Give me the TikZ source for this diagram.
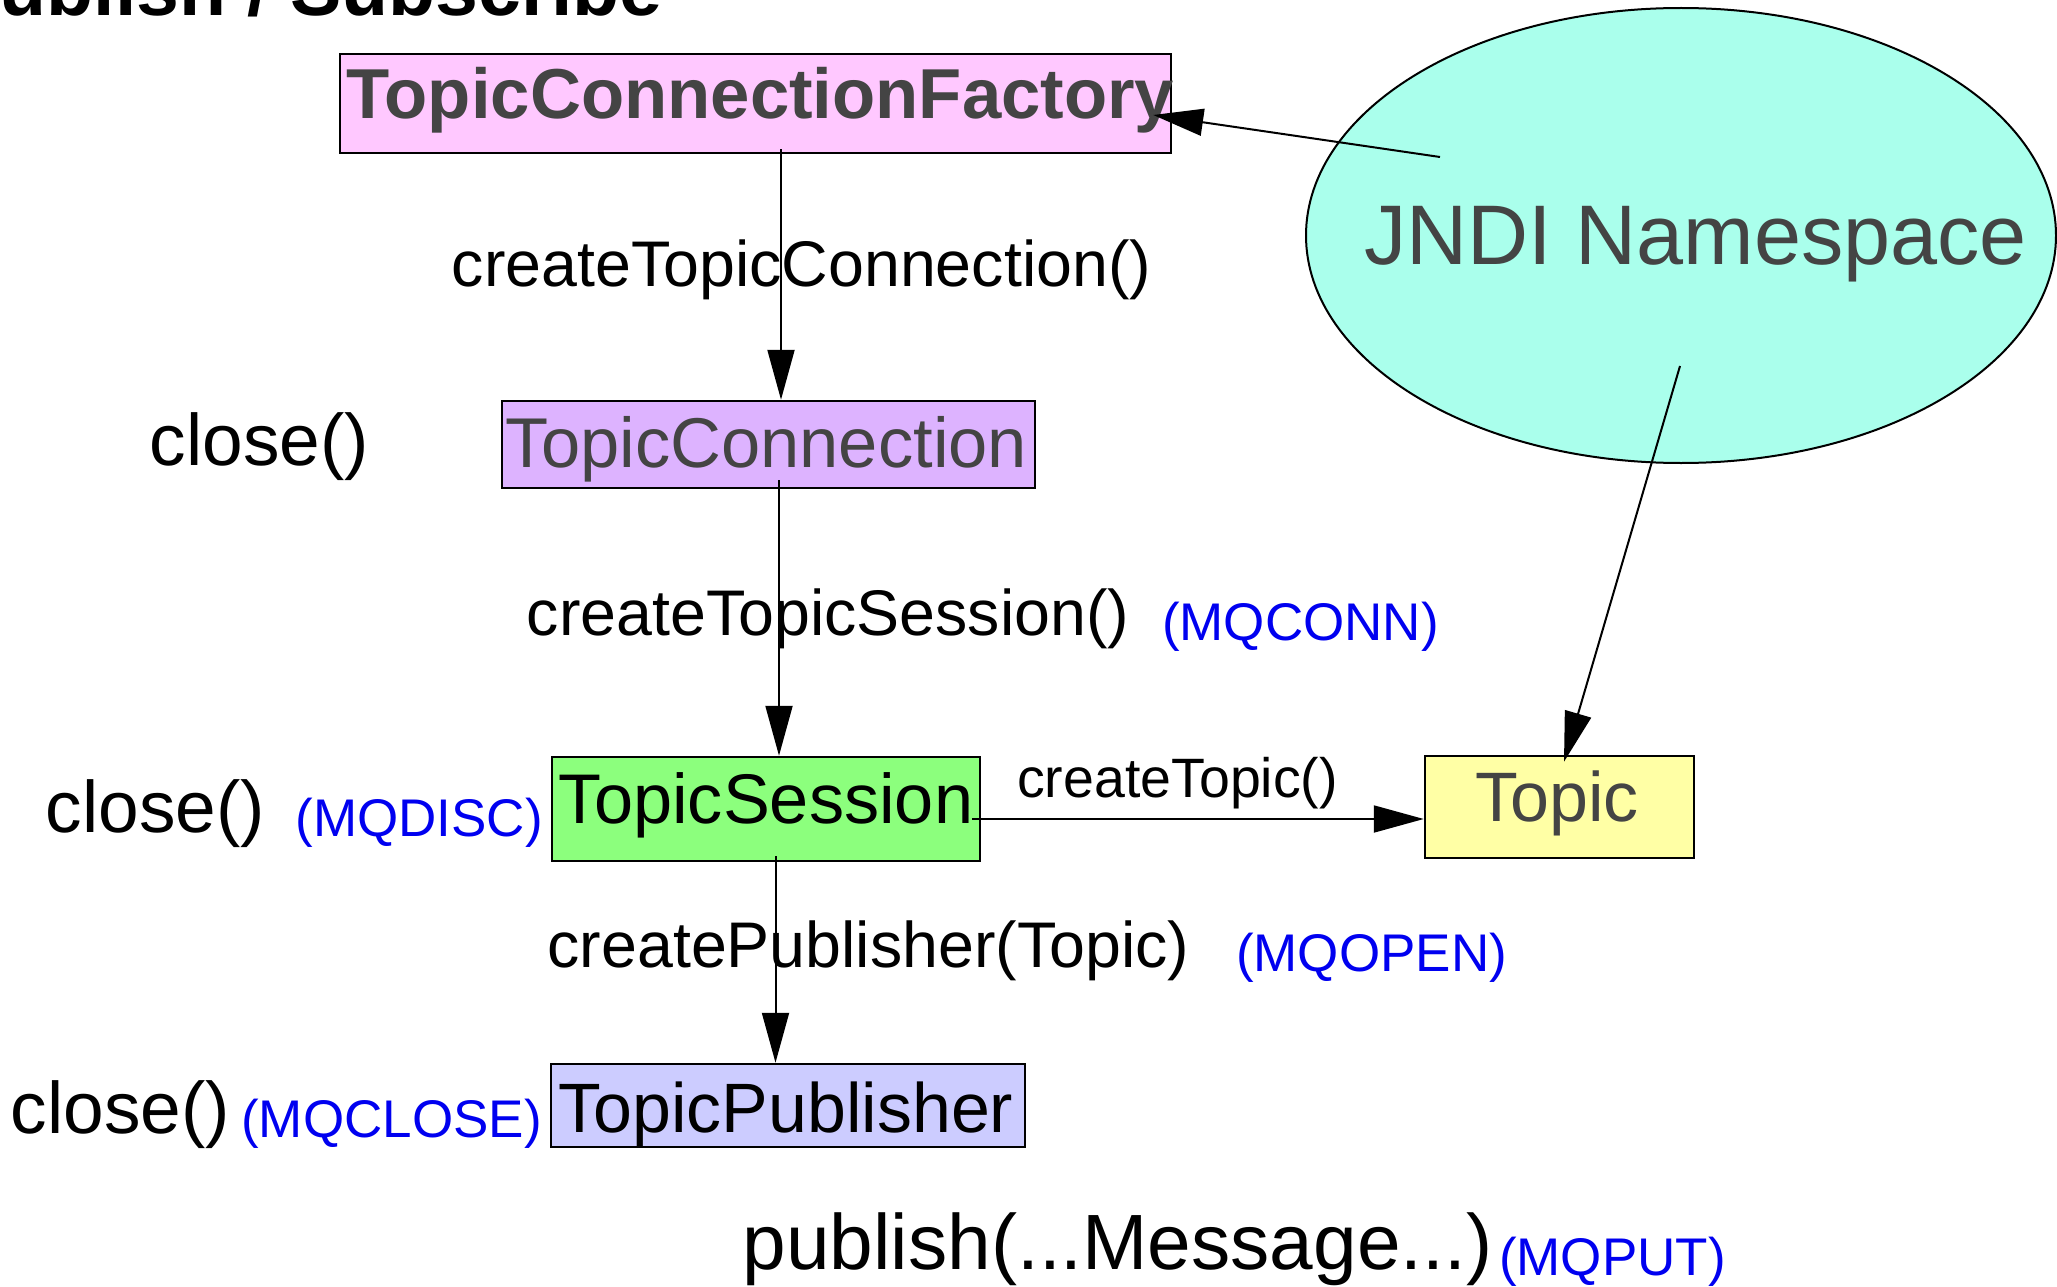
\documentclass[tikz,border=0pt]{standalone}
\usepackage{fontspec}
\setmainfont{Liberation Sans}
\usetikzlibrary{arrows.meta,shapes.geometric}
\definecolor{pinkf}{HTML}{FFC8FF}
\definecolor{violetf}{HTML}{DDB3FF}
\definecolor{greenf}{HTML}{8CFF7D}
\definecolor{yellowf}{HTML}{FFFFA5}
\definecolor{bluef}{HTML}{CCCCFF}
\definecolor{aquaf}{HTML}{AAFFEC}
\definecolor{grayt}{HTML}{444444}
\definecolor{mqblue}{HTML}{0000F0}
\newcommand\fs[1]{\fontsize{#1}{#1}\selectfont}
\tikzset{
  box/.style={draw=black, line width=2.5pt, inner sep=0pt, rectangle},
  txt/.style={inner sep=0pt, anchor=base},
  mq/.style={txt, text=mqblue, font=\fs{53}},
  lbl/.style={txt, text=black, font=\fs{64.5}},
  cls/.style={txt, text=black, font=\fs{73}},
  arr/.style={line width=2pt, draw=black, -{Triangle[length=50pt,width=27pt]}}
}
\begin{document}
\begin{tikzpicture}[x=1pt,y=-1pt]
\path[use as bounding box, clip] (0,0) rectangle (2057,1287);
\fill[white] (0,0) rectangle (2057,1287);
% title (cut off at top)
\node[inner sep=0pt, anchor=base west, font=\bfseries\fs{77}] (title) at (-52,16) {Publish / Subscribe};
% boxes
\node[box, fill=pinkf, minimum width=831pt, minimum height=99pt] (tcf) at (755.5,103.5) {};
\node[box, fill=violetf, minimum width=533pt, minimum height=87pt] (tc) at (768.5,444.5) {};
\node[box, fill=greenf, minimum width=428pt, minimum height=104pt] (ts) at (766,809) {};
\node[box, fill=yellowf, minimum width=269pt, minimum height=102pt] (topic) at (1559.5,807) {};
\node[box, fill=bluef, minimum width=474pt, minimum height=83pt] (tp) at (788,1105.5) {};
\node[ellipse, draw=black, line width=2pt, fill=aquaf, inner sep=0pt, minimum width=750pt, minimum height=455pt] (jndi) at (1681,235.5) {};
% box texts
\node[txt, text=grayt, font=\bfseries\fs{70.7}] (tcft) at (760.5,119) {TopicConnectionFactory};
\node[txt, text=grayt, font=\fs{70.5}] (tct) at (766.5,467.5) {TopicConnection};
\node[txt, text=black, font=\fs{70.3}] (tst) at (766,823) {TopicSession};
\node[txt, text=grayt, font=\fs{70}] (topict) at (1557,821) {Topic};
\node[txt, text=black, font=\fs{69.9}] (tpt) at (786,1132) {TopicPublisher};
\node[txt, text=grayt, font=\fs{84.6}] (jndit) at (1695.5,264) {JNDI Namespace};
% connectors
\draw[arr] ([xshift=25.5pt,yshift=5pt]tcf.south) -- ([xshift=12.5pt]tc.north);
\draw[arr] ([xshift=10.5pt,yshift=9pt]tc.south) -- ([xshift=13pt]ts.north);
\draw[arr] ([xshift=9.5pt,yshift=6pt]ts.south) -- ([xshift=-12.5pt]tp.north);
\draw[arr] ([xshift=-9pt,yshift=-10pt]ts.east) -- ([yshift=-12pt]topic.west);
\draw[arr] ([xshift=-241pt,yshift=78.5pt]jndi.center) -- ([xshift=-19pt,yshift=-11.5pt]tcf.east);
\draw[arr] ([xshift=-1pt,yshift=-130.5pt]jndi.center) -- ([xshift=4.5pt,yshift=-7pt]topic.north);
% labels
\node[lbl] (l1) at (801.5,286) {createTopicConnection()};
\node[cls] (c1) at (259.5,465) {close()};
\node[lbl] (l2) at (828,635) {createTopicSession()};
\node[mq] (m1) at (1300.5,640) {(MQCONN)};
\node[cls] (c2) at (155.5,832) {close()};
\node[mq] (m2) at (419,836) {(MQDISC)};
\node[txt, font=\fs{55.5}] (l3) at (1177.5,797) {createTopic()};
\node[lbl] (l4) at (868.5,967) {createPublisher(Topic)};
\node[mq] (m3) at (1371.5,971) {(MQOPEN)};
\node[cls] (c3) at (120.5,1133) {close()};
\node[mq] (m4) at (391.5,1137) {(MQCLOSE)};
\node[txt, font=\fs{78.4}] (pub) at (1117.5,1269) {publish(...Message...)};
\node[mq] (m5) at (1612.5,1275) {(MQPUT)};
\end{tikzpicture}
\end{document}
